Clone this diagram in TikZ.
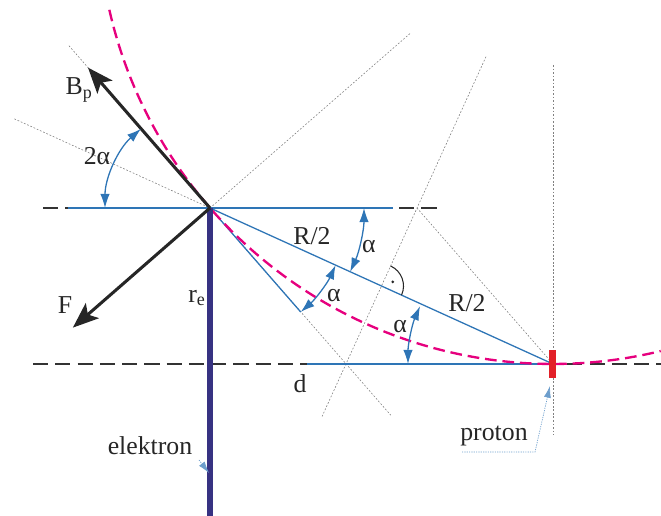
\documentclass[tikz,border=0pt]{standalone}
\usepackage{fontspec}
\setmainfont{Liberation Serif}
\usetikzlibrary{arrows.meta,calc}
\definecolor{lineblue}{RGB}{46,117,182}
\definecolor{eblue}{RGB}{55,50,130}
\definecolor{pinkred}{RGB}{230,0,126}
\definecolor{pred}{RGB}{226,32,40}

\begin{document}
\begin{tikzpicture}[x=0.03cm, y=-0.03cm,
  lbl/.style={inner sep=0pt, font=\fontsize{22}{25}\selectfont, text=black!85},
  bl/.style={draw=lineblue, line width=1.1pt},
  guide/.style={draw=gray, line width=0.5pt, dash pattern=on 1.5pt off 1.5pt},
  axis/.style={draw=black!80, line width=1pt, dash pattern=on 13pt off 6pt},
  orbit/.style={draw=pinkred, line width=2pt, dash pattern=on 10pt off 5pt},
  force/.style={draw=black!85, line width=2.6pt, -{Stealth[length=22pt,width=17pt,inset=5pt]}},
  angarc/.style={draw=lineblue, line width=1.1pt, {Latex[length=12pt,width=8pt]}-{Latex[length=12pt,width=8pt]}},
  leader/.style={draw=lineblue!70, line width=0.6pt, dash pattern=on 1pt off 1pt, -{Latex[length=10pt,width=6pt]}}
]
\useasboundingbox (0,0) rectangle (661,516);
% main points
\coordinate (E) at (210,208);
\coordinate (P) at (553,364);
\coordinate (M) at ($(E)!0.5!(P)$);
\coordinate (A) at ($(E)+(48.9:138)$);
\coordinate (Q) at (417,208);
% helper ends
\coordinate (tg1) at ($(E)+(229:215)$);
\coordinate (tg2) at ($(E)+(48.9:275)$);
\coordinate (ch1) at ($(E)+(204.5:215)$);
\coordinate (rd1) at ($(E)+(-41.1:266)$);
\coordinate (pb1) at ($(M)+(-65.5:252)$);
\coordinate (pb2) at ($(M)+(114.5:145)$);
\coordinate (vt) at (553,65);
\coordinate (vb) at (553,435);
\coordinate (hl1) at (43,208);
\coordinate (hr1) at (443,208);
\coordinate (hb1) at (68,208);
\coordinate (hb2) at (393,208);
\coordinate (ll) at (33,364);
\coordinate (lr) at (661,364);
\coordinate (lb) at (307,364);
\coordinate (eb) at (210,516);
\coordinate (Bt) at ($(E)+(229:186)$);
\coordinate (Ft) at ($(E)+(138.9:182)$);

% guide lines
\draw[guide] (tg1) -- (tg2);
\draw[guide] (ch1) -- (E);
\draw[guide] (E) -- (rd1);
\draw[guide] (pb1) -- (pb2);
\draw[guide] (Q) -- (P);
\draw[guide] (vt) -- (vb);

% axes
\draw[axis] (hl1) -- (hr1);
\draw[axis] (ll) -- (lr);

% blue construction
\draw[bl] (hb1) -- (hb2);
\draw[bl] (lb) -- (P);
\draw[bl] (E) -- (P);
\draw[bl] (E) -- (A);

% orbit
\begin{scope}
  \clip (0,0) rectangle (661,516);
  \draw[orbit] (553,-91) ++(167.2:455) arc[start angle=167.2, end angle=76.3, radius=455];
\end{scope}

% electron path
\draw[draw=eblue, line width=5pt] (E) -- (eb);

% forces
\draw[force] (E) -- (Bt);
\draw[force] (E) -- (Ft);

% proton
\node[fill=pred, minimum width=6pt, minimum height=24pt, inner sep=0pt] (prot) at (552.5,364) {};

% angles
\draw[angarc] ($(E)+(180:105)$) arc[start angle=180, end angle=228.9, radius=105];
\draw[angarc] ($(E)+(0:154)$) arc[start angle=0, end angle=24.5, radius=154];
\draw[angarc] ($(E)+(24.5:138)$) arc[start angle=24.5, end angle=48.9, radius=138];
\draw[angarc] ($(P)+(180:145)$) arc[start angle=180, end angle=203.5, radius=145];
% right angle
\draw[black!85, line width=0.9pt] ($(M)+(-65.5:22)$) arc[start angle=-65.5, end angle=24.5, radius=22];
\fill[black!85] ($(M)+(-20:12)$) circle (1.3pt);

% labels
\node[lbl] (lBp) at (79,90) {B\textsubscript{p}};
\node[lbl] (lF) at (65,305) {F};
\node[lbl] (lre) at (197,298) {r\textsubscript{e}};
\node[lbl] (l2a) at (97,156) {2α};
\node[lbl] (la1) at (369,247) {α};
\node[lbl] (la2) at (334,296) {α};
\node[lbl] (la3) at (400,327) {α};
\node[lbl] (lR1) at (312,236) {R/2};
\node[lbl] (lR2) at (467,303) {R/2};
\node[lbl] (ld) at (300,384) {d};
\node[lbl] (lel) at (150,446) {elektron};
\node[lbl] (lpr) at (494,436) {proton};

% leaders
\coordinate (el1) at (199,460);
\coordinate (el2) at (209,473);
\draw[leader] (el1) -- (el2);
\coordinate (pr1) at (462,452);
\coordinate (pr2) at (535,452);
\coordinate (pr3) at (550,386);
\draw[leader] (pr1) -- (pr2) -- (pr3);
\end{tikzpicture}
\end{document}
